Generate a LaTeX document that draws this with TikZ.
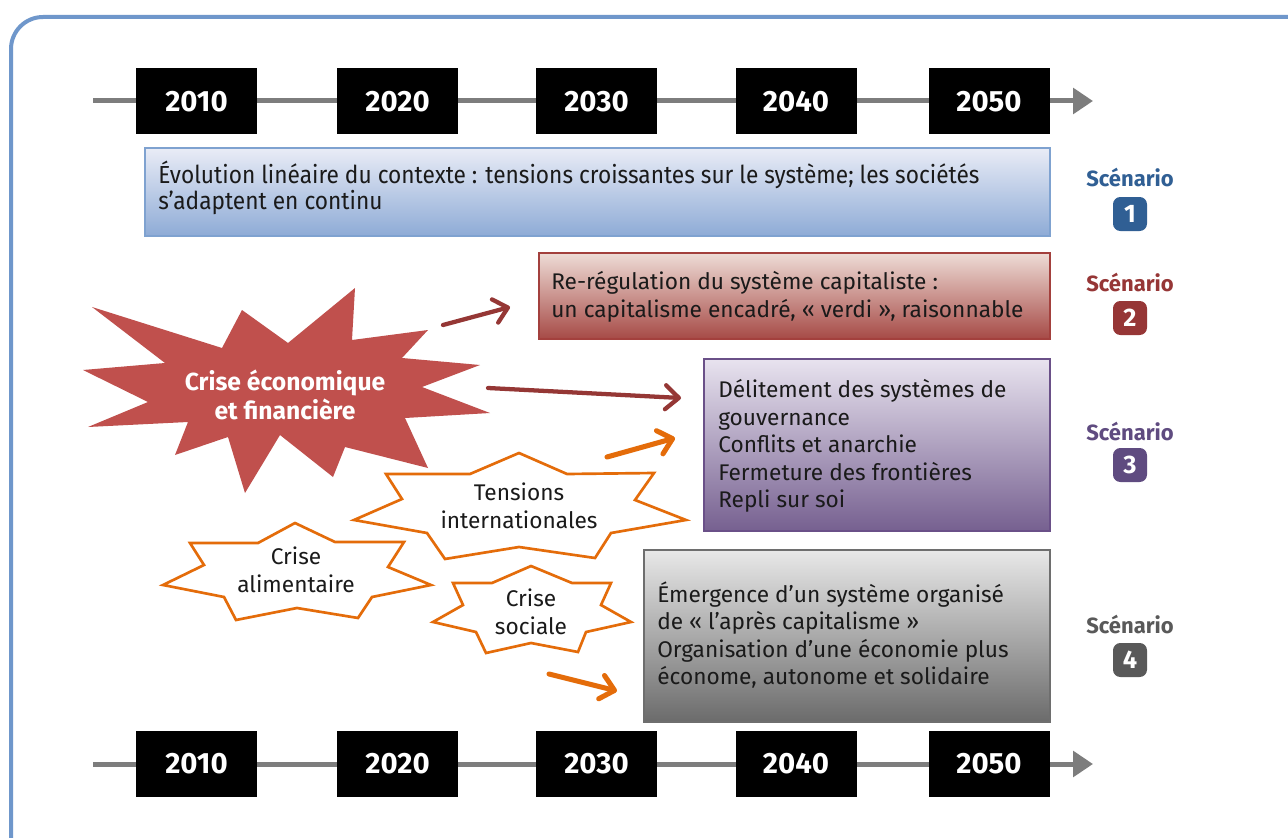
\documentclass[tikz,border=0pt]{standalone}
\usepackage{fontspec}
\setmainfont{Fira Sans}
\newfontfamily\condfont[FakeStretch=0.92]{Fira Sans}
\usetikzlibrary{arrows.meta}
\definecolor{framec}{RGB}{111,151,203}
\definecolor{tlgray}{RGB}{125,125,125}
\definecolor{bonetop}{RGB}{233,236,246}
\definecolor{bonebot}{RGB}{142,171,214}
\definecolor{boneln}{RGB}{127,162,208}
\definecolor{btwotop}{RGB}{238,220,214}
\definecolor{btwobot}{RGB}{166,74,70}
\definecolor{btwoln}{RGB}{163,64,61}
\definecolor{bthrtop}{RGB}{232,227,239}
\definecolor{bthrbot}{RGB}{118,96,144}
\definecolor{bthrln}{RGB}{106,80,136}
\definecolor{bfoutop}{RGB}{232,232,232}
\definecolor{bfoubot}{RGB}{107,107,107}
\definecolor{bfouln}{RGB}{110,110,110}
\definecolor{scone}{RGB}{48,95,148}
\definecolor{sctwo}{RGB}{150,54,54}
\definecolor{scthr}{RGB}{95,75,128}
\definecolor{scfou}{RGB}{89,89,89}
\definecolor{burst}{RGB}{192,80,77}
\definecolor{orng}{RGB}{228,108,10}
\definecolor{darkred}{RGB}{149,55,53}
\definecolor{txt}{RGB}{26,26,26}
\begin{document}
\begin{tikzpicture}[x=0.75pt,y=-0.75pt,
  frame/.style={draw=framec, line width=3pt},
  timeline/.style={draw=tlgray, line width=3.75pt, -{Triangle[length=15pt,width=19pt]}},
  yearbox/.style={fill=black, text=white, font=\bfseries\fontsize{22}{26}\selectfont, minimum width=90.75pt, minimum height=49.5pt, inner sep=0pt},
  scbox/.style={line width=1pt, inner sep=0pt},
  boxtext/.style={anchor=west, align=left, inner sep=0pt, text=txt, font=\fontsize{17}{20.6}\selectfont},
  sclabel/.style={font=\bfseries\fontsize{16.5}{18}\selectfont, inner sep=0pt},
  badge/.style={minimum width=25.5pt, minimum height=25.5pt, rounded corners=5.5pt, inner sep=0pt, text=white, font=\bfseries\fontsize{19}{20}\selectfont},
  startext/.style={align=center, inner sep=0pt, text=txt, font=\fontsize{17}{21}\selectfont},
  starline/.style={draw=orng, line width=2pt, line join=miter, fill=white},
  redarrow/.style={draw=darkred, line width=3.2pt, line cap=round, -{Straight Barb[round,length=10pt,width=18pt]}},
  orarrow/.style={draw=orng, line width=3.8pt, line cap=round, -{Straight Barb[round,length=10pt,width=18pt]}}
]
\useasboundingbox (0,0) rectangle (1288,838);
\fill[white] (0,0) rectangle (1288,838);
\begin{scope}
  \clip (0,0) rectangle (1288,838);
  \draw[frame, rounded corners=24pt] (11,17) rectangle (1330,880);
\end{scope}

% top timeline
\coordinate (ts) at (93,101);
\coordinate (te) at (1093,101);
\draw[timeline] (ts) -- (te);
\node[yearbox] (t2010) at (196.5,101.5) {2010};
\node[yearbox] (t2020) at (397.5,101.5) {2020};
\node[yearbox] (t2030) at (596.5,101.5) {2030};
\node[yearbox] (t2040) at (796,101.5) {2040};
\node[yearbox] (t2050) at (989,101.5) {2050};

% bottom timeline
\coordinate (bs) at (93,764);
\coordinate (be) at (1093,764);
\draw[timeline] (bs) -- (be);
\node[yearbox] (b2010) at (196.5,764) {2010};
\node[yearbox] (b2020) at (397.5,764) {2020};
\node[yearbox] (b2030) at (596.5,764) {2030};
\node[yearbox] (b2040) at (796,764) {2040};
\node[yearbox] (b2050) at (989,764) {2050};

% scenario boxes
\node[scbox, draw=boneln, top color=bonetop, bottom color=bonebot, minimum width=678.75pt, minimum height=66pt] (s1) at (597.5,192) {};
\node[boxtext, font=\condfont\fontsize{18.5}{19}\selectfont] (s1t) at (158,188) {Évolution linéaire du contexte : tensions croissantes sur le système; les sociétés\\s’adaptent en continu};

\node[scbox, draw=btwoln, top color=btwotop, bottom color=btwobot, minimum width=383.25pt, minimum height=64.5pt] (s2) at (794.5,296) {};
\node[boxtext] (s2t) at (551,297) {Re-régulation du système capitaliste :\\un capitalisme encadré, « verdi », raisonnable};

\node[scbox, draw=bthrln, top color=bthrtop, bottom color=bthrbot, minimum width=259.5pt, minimum height=129pt] (s3) at (877,445) {};
\node[boxtext] (s3t) at (718,446) {Délitement des systèmes de\\gouvernance\\Conflits et anarchie\\Fermeture des frontières\\Repli sur soi};

\node[scbox, draw=bfouln, top color=bfoutop, bottom color=bfoubot, minimum width=304.5pt, minimum height=129pt] (s4) at (847,636) {};
\node[boxtext] (s4t) at (657,635) {Émergence d’un système organisé\\de « l’après capitalisme »\\Organisation d’une économie plus\\économe, autonome et solidaire};

% scenario labels
\node[sclabel, text=scone] (l1) at (1130,178) {Scénario};
\node[badge, fill=scone] (n1) at (1130,214) {1};
\node[sclabel, text=sctwo] (l2) at (1130,283) {Scénario};
\node[badge, fill=sctwo] (n2) at (1130,318) {2};
\node[sclabel, text=scthr] (l3) at (1130,431) {Scénario};
\node[badge, fill=scthr] (n3) at (1130,465) {3};
\node[sclabel, text=scfou] (l4) at (1130,624) {Scénario};
\node[badge, fill=scfou] (n4) at (1130,660) {4};

% big starburst
\fill[burst] (355,288) -- (352,340) -- (428,330) -- (402,358) -- (480,365) -- (422,387) -- (490,413) -- (405,418) -- (428,468) -- (345,447) -- (333,477) -- (280,435) -- (245,493) -- (228,437) -- (175,455) -- (188,422) -- (88,427) -- (148,402) -- (83,370) -- (165,363) -- (92,307) -- (222,348) -- (242,310) -- (288,343) -- cycle;
\node[align=center, inner sep=0pt, text=white, font=\bfseries\fontsize{18.5}{21.5}\selectfont] (crise) at (285,395) {Crise économique\\et financière};

% orange stars
\draw[starline] (519,453) -- (567,474) -- (654,473) -- (635,500) -- (686,520) -- (611,533) -- (595,558) -- (519,547) -- (445,559) -- (427,533) -- (354,520) -- (402,499) -- (386,474) -- (470,474) -- cycle;
\node[startext] (tens) at (519,506) {Tensions\\internationales};

\draw[starline] (295,523) -- (335,542) -- (404,542) -- (388,567) -- (431,585) -- (372,597) -- (358,618) -- (297,608) -- (236,620) -- (224,597) -- (163,585) -- (204,565) -- (190,543) -- (258,543) -- cycle;
\node[startext] (alim) at (296,570) {Crise\\alimentaire};

\draw[starline] (531,566) -- (572,583) -- (611,583) -- (601,605) -- (631,622) -- (586,632) -- (578,652) -- (531,643) -- (486,653) -- (476,632) -- (433,622) -- (463,605) -- (453,583) -- (492,583) -- cycle;
\node[startext] (soc) at (531,612) {Crise\\sociale};

% arrows
\coordinate (a1s) at (443,325); \coordinate (a1e) at (510,307);
\coordinate (a2s) at (488,388); \coordinate (a2e) at (681,398);
\coordinate (a3s) at (607,457); \coordinate (a3e) at (675,438);
\coordinate (a4s) at (549,674); \coordinate (a4e) at (617,691);
\draw[redarrow] (a1s) -- (a1e);
\draw[redarrow] (a2s) -- (a2e);
\draw[orarrow] (a3s) -- (a3e);
\draw[orarrow] (a4s) -- (a4e);
\end{tikzpicture}
\end{document}
